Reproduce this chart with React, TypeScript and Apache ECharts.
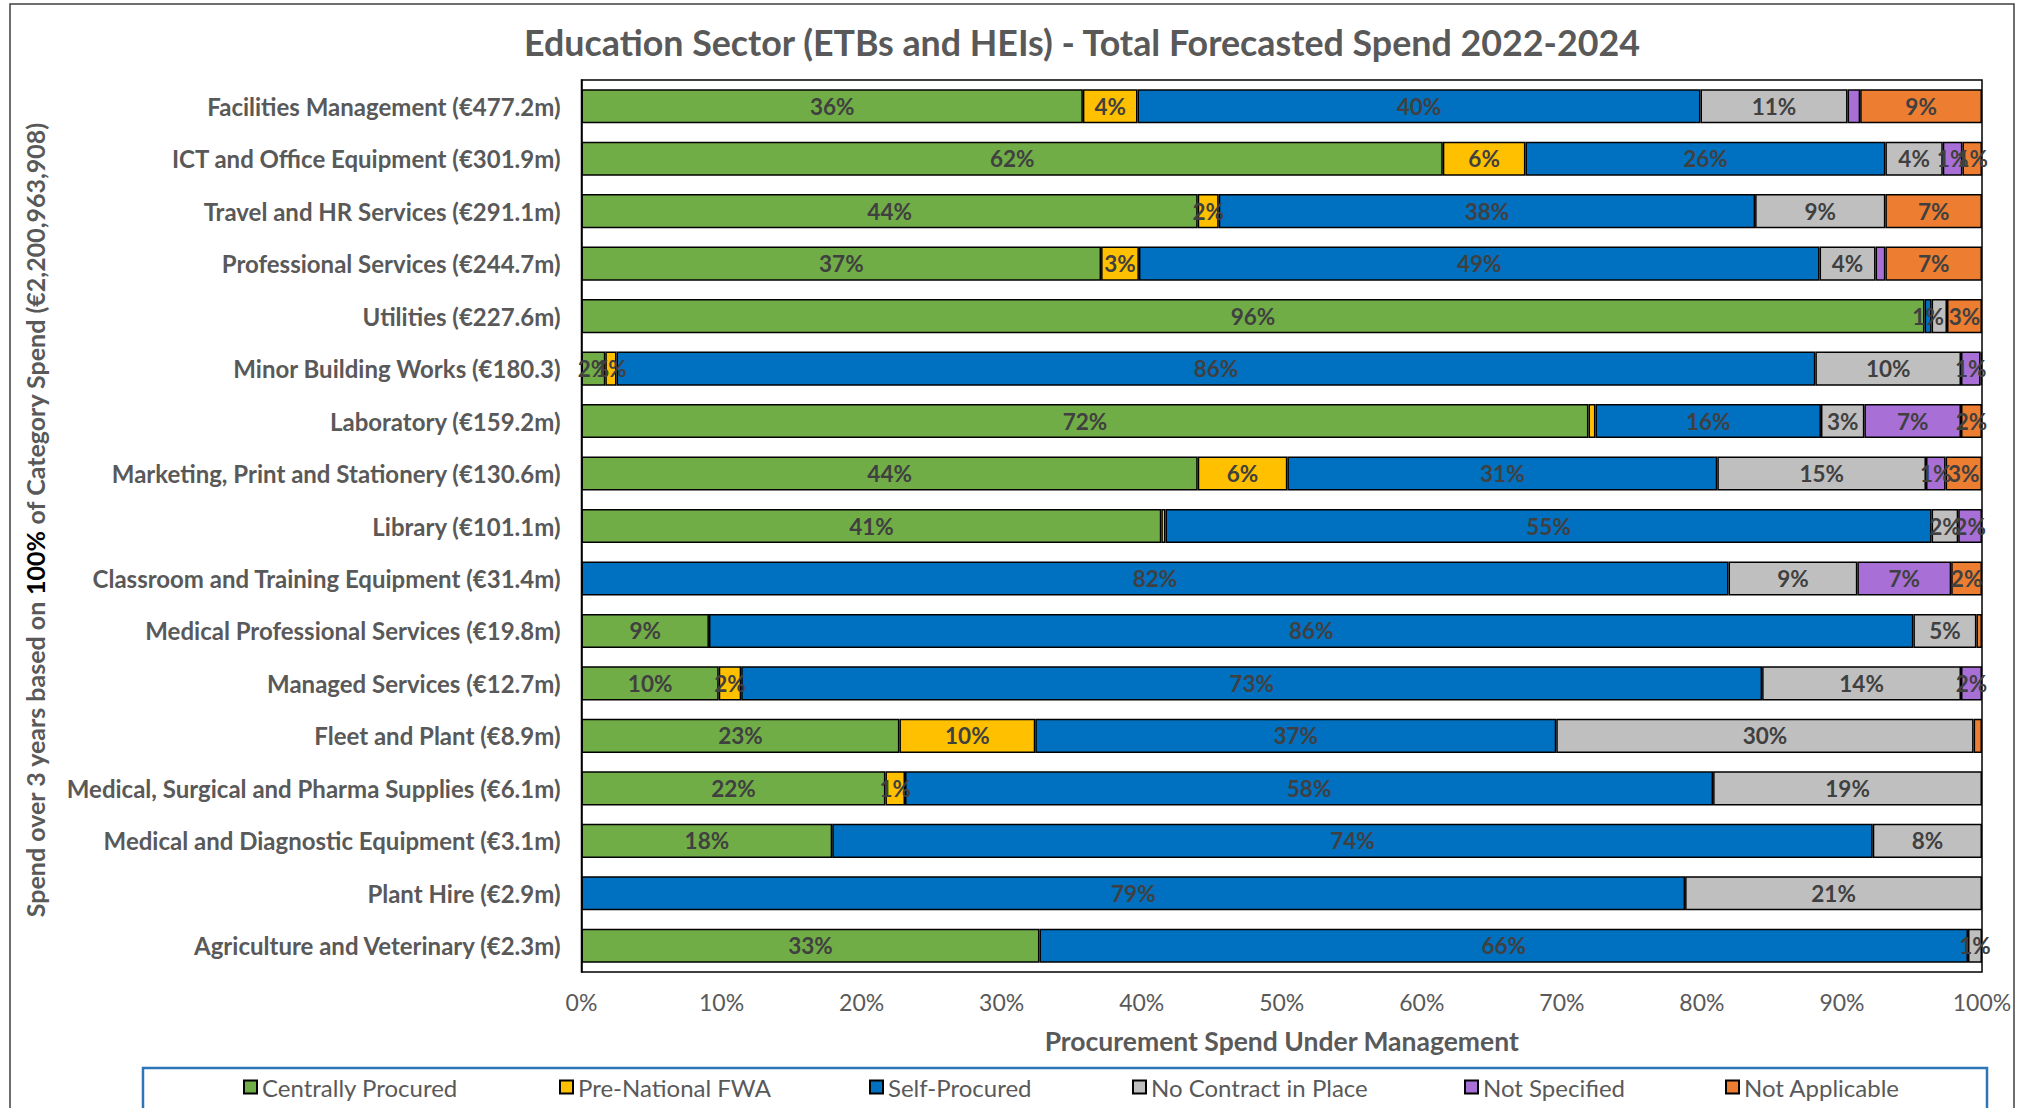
import React, { useEffect, useRef } from 'react';
import * as echarts from 'echarts';

const categories = [
  'Facilities Management (€477.2m)',
  'ICT and Office Equipment (€301.9m)',
  'Travel and HR Services (€291.1m)',
  'Professional Services (€244.7m)',
  'Utilities (€227.6m)',
  'Minor Building Works (€180.3)',
  'Laboratory (€159.2m)',
  'Marketing, Print and Stationery (€130.6m)',
  'Library (€101.1m)',
  'Classroom and Training Equipment (€31.4m)',
  'Medical Professional Services (€19.8m)',
  'Managed Services (€12.7m)',
  'Fleet and Plant (€8.9m)',
  'Medical, Surgical and Pharma Supplies (€6.1m)',
  'Medical and Diagnostic Equipment (€3.1m)',
  'Plant Hire (€2.9m)',
  'Agriculture and Veterinary (€2.3m)',
];

const seriesNames = [
  'Centrally Procured',
  'Pre-National FWA',
  'Self-Procured',
  'No Contract in Place',
  'Not Specified',
  'Not Applicable',
];

const centrallyProcured = [35.8, 61.5, 44.0, 37.1, 95.9, 1.7, 71.9, 44.0, 41.4, 0, 9.1, 9.8, 22.7, 21.7, 17.9, 0, 32.7];
const preNationalFWA = [3.9, 5.9, 1.5, 2.7, 0, 0.8, 0.5, 6.4, 0.3, 0, 0, 1.6, 9.7, 1.4, 0, 0, 0];
const selfProcured = [40.2, 25.7, 38.3, 48.6, 0.5, 85.6, 16.1, 30.7, 54.7, 81.9, 86.0, 72.9, 37.2, 57.7, 74.3, 78.8, 66.3];
const noContract = [10.5, 4.1, 9.3, 4.0, 1.1, 10.4, 3.1, 14.9, 1.9, 9.2, 4.5, 14.2, 29.8, 19.2, 7.8, 21.2, 1.0];
const notSpecified = [0.9, 1.4, 0, 0.7, 0, 1.4, 6.9, 1.4, 1.7, 6.7, 0, 1.5, 0, 0, 0, 0, 0];
const notApplicable = [8.7, 1.4, 6.9, 6.9, 2.5, 0.1, 1.5, 2.6, 0, 2.2, 0.4, 0, 0.6, 0, 0, 0, 0];

// category indices whose data label is not shown in the original
const hiddenLabels = [[], [6, 8], [], [4], [0, 3], [5, 10, 12]];

const seriesValues = [centrallyProcured, preNationalFWA, selfProcured, noContract, notSpecified, notApplicable];
const seriesColors = ['#70AD47', '#FFC000', '#0070C0', '#BFBFBF', '#A870D6', '#ED7D31'];
const legendLefts = [243, 559, 869, 1132, 1464, 1725];

const FONT = 'Lato';

export default function App() {
  const ref = useRef<HTMLDivElement>(null);
  useEffect(() => {
    const chart = echarts.init(ref.current!, null, { renderer: 'svg' });
    const series = seriesNames.map((name, si) => ({
      name,
      type: 'bar',
      stack: 'total',
      barWidth: '65%',
      data: seriesValues[si].map((v) => (v === 0 ? null : v)),
      itemStyle: { color: seriesColors[si], borderColor: '#000', borderWidth: 1.5 },
      label: {
        show: true,
        position: 'inside',
        color: '#404040',
        fontFamily: FONT,
        fontWeight: 'bold',
        fontSize: 22.5,
        formatter: (p: any) =>
          p.value == null || hiddenLabels[si].includes(p.dataIndex) ? '' : Math.round(p.value) + '%',
      },
    }));
    const option: any = {
      animation: false,
      backgroundColor: '#fff',
      title: {
        text: 'Education Sector (ETBs and HEIs) - Total Forecasted Spend 2022-2024',
        left: 1077,
        textAlign: 'center',
        top: 19,
        textStyle: { fontFamily: FONT, fontWeight: 'bold', fontSize: 35.8, color: '#595959' },
      },
      legend: seriesNames.map((name, i) => ({
        data: [name],
        left: legendLefts[i],
        top: 1075,
        padding: 0,
        icon: 'rect',
        itemWidth: 13,
        itemHeight: 13,
        selectedMode: false,
        textStyle: { fontFamily: FONT, fontSize: 24, color: '#595959' },
      })),
      grid: {
        left: 581.5,
        right: 45,
        top: 80,
        bottom: 136,
        show: true,
        borderColor: '#000',
        borderWidth: 1.5,
        containLabel: false,
      },
      xAxis: {
        type: 'value',
        min: 0,
        max: 100,
        interval: 10,
        axisLine: { show: false },
        axisTick: { show: false },
        splitLine: { show: false },
        axisLabel: { formatter: '{value}%', fontFamily: FONT, fontSize: 23, color: '#595959', margin: 18 },
        name: 'Procurement Spend Under Management',
        nameLocation: 'middle',
        nameGap: 55,
        nameTextStyle: { fontFamily: FONT, fontWeight: 'bold', fontSize: 26.5, color: '#595959' },
      },
      yAxis: {
        type: 'category',
        data: categories,
        inverse: true,
        axisLine: { show: true, lineStyle: { color: '#000', width: 1.5 } },
        axisTick: { show: false },
        axisLabel: { fontFamily: FONT, fontWeight: 'bold', fontSize: 24, color: '#595959', margin: 21 },
      },
      graphic: [
        {
          type: 'rect',
          silent: true,
          shape: { x: 10, y: 4, width: 2004, height: 1200 },
          style: { fill: 'none', stroke: '#404040', lineWidth: 1.5 },
        },
        {
          type: 'rect',
          silent: true,
          shape: { x: 143, y: 1068, width: 1844, height: 80 },
          style: { fill: 'none', stroke: '#2E75B6', lineWidth: 2.5 },
        },
        {
          type: 'text',
          silent: true,
          x: 35,
          y: 520,
          rotation: Math.PI / 2,
          style: {
            text: 'Spend over 3 years based on {b|100%} of Category Spend (€2,200,963,908)',
            fontFamily: FONT,
            fontWeight: 'bold',
            fontSize: 25,
            fill: '#595959',
            align: 'center',
            verticalAlign: 'middle',
            rich: {
              b: { fontFamily: FONT, fontWeight: 'bold', fontSize: 25, color: '#000', fill: '#000' },
            },
          },
        },
      ],
      series,
    };
    chart.setOption(option);
    return () => chart.dispose();
  }, []);
  return <div ref={ref} style={{ position: 'absolute', left: 0, top: 0, width: 2027, height: 1108 }} />;
}
